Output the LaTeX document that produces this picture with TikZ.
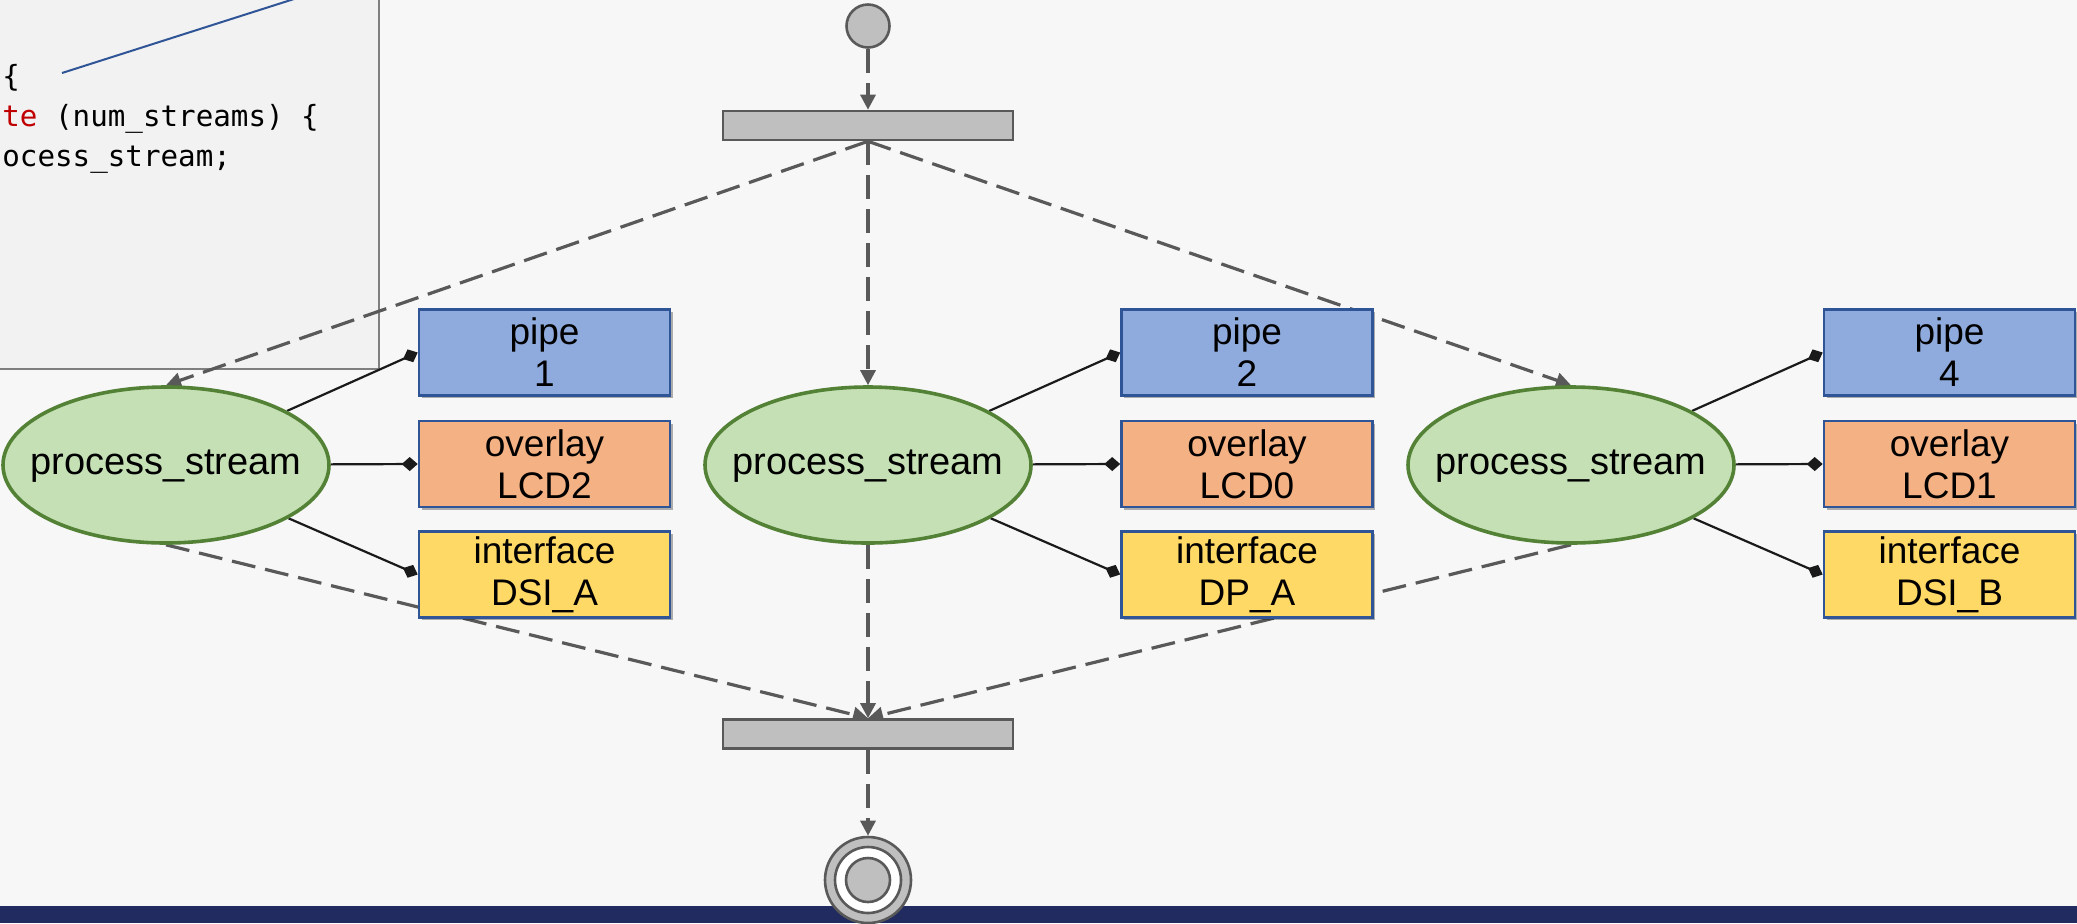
\documentclass[tikz,border=0pt]{standalone}
\usepackage{fontspec}
\setmainfont{Liberation Sans}
\newfontfamily\codefont{DejaVu Sans Mono}
\usetikzlibrary{arrows.meta,shapes.geometric,shadows}
\definecolor{bgc}{HTML}{F7F7F7}
\definecolor{codebg}{HTML}{F2F2F2}
\definecolor{codeborder}{HTML}{7F7F7F}
\definecolor{kwred}{HTML}{C00000}
\definecolor{lineblue}{HTML}{2F5597}
\definecolor{flowgray}{HTML}{595959}
\definecolor{barfill}{HTML}{BFBFBF}
\definecolor{pipefill}{HTML}{8FAADC}
\definecolor{overfill}{HTML}{F4B183}
\definecolor{intffill}{HTML}{FFD966}
\definecolor{boxborder}{HTML}{2F5597}
\definecolor{ellfill}{HTML}{C5E0B4}
\definecolor{ellborder}{HTML}{538135}
\definecolor{navy}{HTML}{212B5F}
\definecolor{conn}{HTML}{1A1A1A}
\pgfdeclarelayer{bglayer}
\pgfdeclarelayer{edgelayer}
\pgfsetlayers{bglayer,edgelayer,main}
\tikzset{
  flowline/.style={draw=flowgray, line width=1.6pt, dash pattern=on 12pt off 5pt, -{Triangle[length=7.5pt,width=7.5pt]}},
  bar/.style={rectangle, draw=flowgray, fill=barfill, line width=1.3pt, minimum width=145pt, minimum height=14.5pt, inner sep=0pt},
  stream/.style={ellipse, draw=ellborder, fill=ellfill, line width=1.8pt, minimum width=163pt, minimum height=78pt, inner sep=0pt, font=\fontsize{19}{21}\selectfont},
  resbox/.style={rectangle, draw=boxborder, line width=1.3pt, minimum width=125.5pt, minimum height=43pt, inner sep=0pt, align=center, font=\fontsize{18.5}{21}\selectfont, drop shadow={shadow xshift=1.3pt, shadow yshift=-1.3pt, opacity=0.3, fill=black}},
  pipebox/.style={resbox, fill=pipefill},
  overbox/.style={resbox, fill=overfill},
  intfbox/.style={resbox, fill=intffill},
  link/.style={draw=conn, line width=1.1pt, -{Diamond[length=8pt,width=7pt]}},
  codeline/.style={anchor=base west, inner sep=0pt, font=\codefont\fontsize{14.6}{17}\selectfont},
  startdot/.style={circle, draw=flowgray, fill=barfill, line width=1.3pt, minimum size=21.5pt, inner sep=0pt},
}
\newcommand{\zw}[1]{\makebox[0pt]{\vphantom{Ag}#1}}
\begin{document}
\begin{tikzpicture}[x=0.5pt, y=-0.5pt]
\useasboundingbox (0,0) rectangle (2077,923);
\begin{pgfonlayer}{bglayer}
  \fill[bgc] (0,0) rectangle (2077,923);
  \fill[codebg] (-2,-2) rectangle (379,369);
  \draw[codeborder, line width=0.8pt] (379,-2) -- (379,369) -- (-2,369);
  \coordinate (blueA) at (62,73);
  \coordinate (blueB) at (294,-1);
  \draw[lineblue, line width=1pt] (blueA) -- (blueB);
  \fill[navy] (0,906) rectangle (2077,923);
\end{pgfonlayer}
\node[codeline] (code1) at (2,86) {\{};
\node[codeline] (code2) at (2,126) {\textcolor{kwred}{te} (num\_streams) \{};
\node[codeline] (code3) at (2,166) {ocess\_stream;};

\node[startdot] (start) at (868,26) {};
\node[bar] (fork) at (868,125.5) {};
\node[bar] (join) at (868,734) {};

\node[stream] (s1) at (166,465) {\zw{process\_stream}};
\node[stream] (s2) at (868,465) {\zw{process\_stream}};
\node[stream] (s3) at (1571,465) {\zw{process\_stream}};

\node[pipebox] (p1) at (544.5,352.5) {pipe\\1};
\node[overbox] (o1) at (544.5,464) {overlay\\LCD2};
\node[intfbox] (i1) at (544.5,574.5) {interface\\DSI\_A};
\node[pipebox] (p2) at (1247,352.5) {pipe\\2};
\node[overbox] (o2) at (1247,464) {overlay\\LCD0};
\node[intfbox] (i2) at (1247,574.5) {interface\\DP\_A};
\node[pipebox] (p3) at (1949.5,352.5) {pipe\\4};
\node[overbox] (o3) at (1949.5,464) {overlay\\LCD1};
\node[intfbox] (i3) at (1949.5,574.5) {interface\\DSI\_B};

\node[circle, draw=flowgray, fill=barfill, line width=1.3pt, minimum size=43pt, inner sep=0pt] (stop) at (868,880) {};
\node[circle, draw=flowgray, fill=white, line width=1.3pt, minimum size=33pt, inner sep=0pt] (stopring) at (stop.center) {};
\node[circle, draw=flowgray, fill=barfill, line width=1.3pt, minimum size=22pt, inner sep=0pt] (stopcore) at (stop.center) {};

\begin{pgfonlayer}{edgelayer}
  \draw[flowline] (start) -- (fork.north);
  \draw[flowline] (fork.south) -- (s1.north);
  \draw[flowline] (fork.south) -- (s2.north);
  \draw[flowline] (fork.south) -- (s3.north);
  \draw[flowline] (s1.south) -- (join.north);
  \draw[flowline] (s2.south) -- (join.north);
  \draw[flowline] (s3.south) -- (join.north);
  \draw[flowline] (join.south) -- (stop.north);
  \foreach \k in {1,2,3} {
    \draw[link] (s\k) -- (p\k.west);
    \draw[link] (s\k) -- (o\k.west);
    \draw[link] (s\k) -- (i\k.west);
  }
\end{pgfonlayer}
\end{tikzpicture}
\end{document}
